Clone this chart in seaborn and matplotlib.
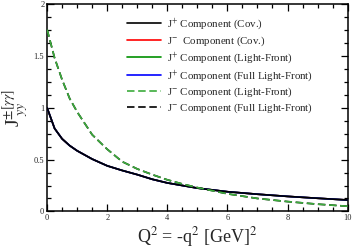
import matplotlib
matplotlib.use("Agg")
import matplotlib.pyplot as plt
import seaborn as sns
import pandas as pd
from matplotlib.ticker import MultipleLocator, FormatStrFormatter

# ---------------------------------------------------------
# DATA
# ---------------------------------------------------------
q2 = [0, 0.25, 0.5, 0.75, 1, 1.5, 2, 2.5, 3, 3.5, 4, 4.5, 5, 6, 7, 8, 9, 10]

jplus_cov = [1.00, 0.80, 0.70, 0.635, 0.585, 0.505, 0.44, 0.395, 0.355, 0.31,
             0.275, 0.25, 0.225, 0.19, 0.166, 0.145, 0.127, 0.11]
jminus_cov = [1.00, 0.80, 0.70, 0.635, 0.585, 0.505, 0.44, 0.395, 0.355, 0.31,
              0.275, 0.25, 0.225, 0.19, 0.166, 0.145, 0.127, 0.11]
jplus_lf = [1.00, 0.80, 0.70, 0.635, 0.585, 0.505, 0.44, 0.395, 0.355, 0.31,
            0.275, 0.25, 0.225, 0.19, 0.166, 0.145, 0.127, 0.11]
jplus_full_lf = [1.00, 0.80, 0.70, 0.635, 0.585, 0.505, 0.44, 0.395, 0.355, 0.31,
                 0.275, 0.25, 0.225, 0.19, 0.166, 0.145, 0.127, 0.11]
jminus_lf = [1.755, 1.48, 1.27, 1.09, 0.96, 0.74, 0.60, 0.48, 0.41, 0.355,
             0.305, 0.265, 0.23, 0.17, 0.125, 0.095, 0.07, 0.05]
jminus_full_lf = [1.755, 1.48, 1.27, 1.09, 0.96, 0.74, 0.60, 0.48, 0.41, 0.355,
                  0.305, 0.265, 0.23, 0.17, 0.125, 0.095, 0.07, 0.05]

labels = [
    "J$^{+}$ Component (Cov.)",
    "J$^{-}$  Component (Cov.)",
    "J$^{+}$ Component (Light-Front)",
    "J$^{+}$ Component (Full Light-Front)",
    "J$^{-}$ Component (Light-Front)",
    "J$^{-}$ Component (Full Light-Front)",
]
series = [jplus_cov, jminus_cov, jplus_lf, jplus_full_lf, jminus_lf, jminus_full_lf]

# ---------------------------------------------------------
# STYLE
# ---------------------------------------------------------
sns.set_style("ticks")
plt.rcParams["font.family"] = ["Liberation Serif", "DejaVu Serif"]
plt.rcParams["mathtext.fontset"] = "stix"

# colour, dashed?, zorder
styles = [
    ("black", False, 6),
    ("#ff0000", False, 3),
    ("#009000", False, 4),
    ("#0000ff", False, 5),
    ("#3cab3c", True, 8),
    ("black", True, 7),
]

fig, ax = plt.subplots(figsize=(3.54, 2.52), dpi=100)
fig.subplots_adjust(left=0.133, right=0.982, top=0.984, bottom=0.161)

handles = []
for lab, vals, (col, dashed, z) in zip(labels, series, styles):
    df = pd.DataFrame({"q2": q2, "J": vals})
    sns.lineplot(data=df, x="q2", y="J", ax=ax, color=col, linewidth=1.2,
                 zorder=z, label=lab)
    line = ax.lines[-1]
    if dashed:
        line.set_dashes((4.5, 2.2))
    handles.append(line)

ax.set_xlim(0, 10)
ax.set_ylim(0, 2)
ax.xaxis.set_major_locator(MultipleLocator(2))
ax.xaxis.set_minor_locator(MultipleLocator(0.5))
ax.yaxis.set_major_locator(MultipleLocator(0.5))
ax.yaxis.set_minor_locator(MultipleLocator(0.125))
ax.yaxis.set_major_formatter(FormatStrFormatter("%g"))
ax.xaxis.set_major_formatter(FormatStrFormatter("%g"))
ax.tick_params(which="both", direction="in", top=True, right=True,
               labelsize=6, pad=2, color="black", width=0.9)
ax.tick_params(which="major", length=5)
ax.tick_params(which="minor", length=3)
for sp in ax.spines.values():
    sp.set_linewidth(1.1)
    sp.set_color("black")

ax.set_xlabel("Q$^{2}$ = -q$^{2}$ [GeV]$^{2}$", fontsize=13, labelpad=2)
ax.set_ylabel(r"J$^{\pm[\gamma\gamma]}_{\ yy}$", fontsize=14, labelpad=2)

ax.legend(handles=handles, labels=labels, loc="upper left",
          bbox_to_anchor=(0.265, 0.94), frameon=False, fontsize=7.8,
          handlelength=3.2, handletextpad=0.55, labelspacing=0.2,
          borderaxespad=0, borderpad=0)

fig.savefig("out.png", dpi=100)
